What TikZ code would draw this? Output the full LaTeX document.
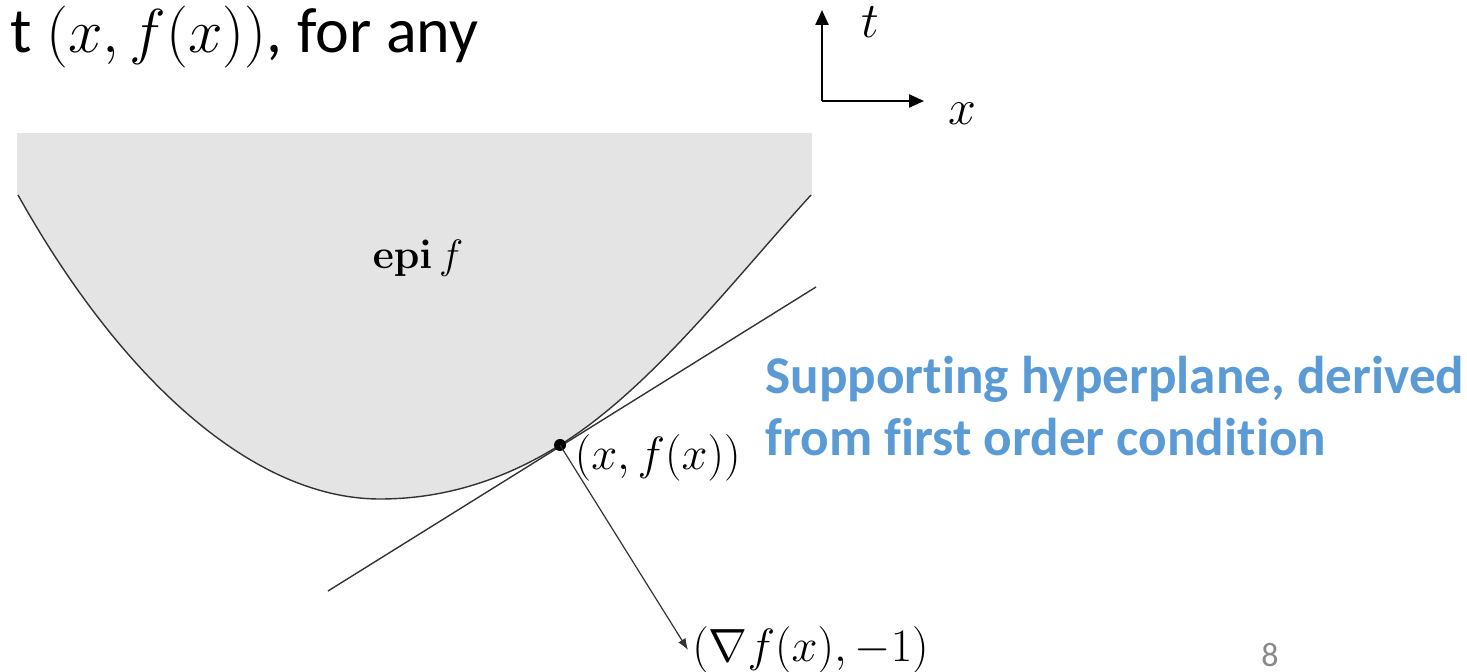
\RequirePackage{fix-cm}
\documentclass[tikz,border=0pt]{standalone}
\usepackage[no-math]{fontspec}
\setmainfont{Carlito}[Ligatures=NoCommon]
\usetikzlibrary{arrows.meta,positioning}
\definecolor{epigray}{RGB}{228,228,228}
\definecolor{slideblue}{RGB}{91,155,213}
\definecolor{pagegray}{RGB}{137,137,137}

\begin{document}
\begin{tikzpicture}[x=0.5pt,y=-0.5pt,font=\fontsize{23.3}{28}\selectfont,>=Latex,
 curve/.style={draw=black!80,line width=0.7pt},
 axis/.style={-{Triangle[length=7.5pt,width=6.5pt]},line width=1.2pt},
 lbl/.style={inner sep=2pt},
 slide/.style={font=\fontsize{32}{38}\selectfont,inner sep=0pt}]
\path[use as bounding box,clip] (0,0) rectangle (1467,672);
% epigraph of f
\fill[epigray] (17,133) rectangle (812,196);
\draw[curve,fill=epigray] (18,195) .. controls (118,374) and (250,499) .. (380,499)
  .. controls (440,499) and (500,482.4) .. (560,445)
  .. controls (650,389) and (731,283) .. (811,195);
\node[lbl,font=\fontsize{20.5}{25}\selectfont] (epi) at (418,258) {$\mathbf{epi}\,f$};
% supporting hyperplane and normal
\coordinate (hlo) at (328,591);
\coordinate (hhi) at (816,287);
\draw[curve] (hlo) -- (hhi);
\node[circle,fill,inner sep=0pt,minimum size=6pt] (pt) at (560,445) {};
\node[lbl,right=2pt of pt,yshift=-6.5pt] (ptlbl) {$(x,f(x))$};
\node[lbl,anchor=west] (grad) at (688,650) {$(\nabla f(x),-1)$};
\draw[->,black!80,line width=0.6pt,shorten <=-3pt] (pt) -- (grad.west);
% axes
\coordinate (o) at (822,101);
\coordinate (tend) at (822,10);
\coordinate (xend) at (924,101);
\draw[axis] (o) -- (tend);
\draw[axis] (o) -- (xend);
\node[font=\fontsize{25}{30}\selectfont] (tlbl) at (870,22) {$t$};
\node[font=\fontsize{25}{30}\selectfont] (xlbl) at (962,114) {$x$};
% slide text
\node[slide,anchor=base west] (head) at (10,53) {t {\fontsize{31}{36}\selectfont$(x,f(x))$}, for any};
\node[slide,font=\fontsize{26.6}{31}\selectfont\bfseries,text=slideblue,align=left,anchor=north west] (note) at (765,356) {Supporting hyperplane, derived\\from first order condition};
\node[font=\fontsize{17}{20}\selectfont,text=pagegray] (pgno) at (1270,655) {8};
\end{tikzpicture}
\end{document}
